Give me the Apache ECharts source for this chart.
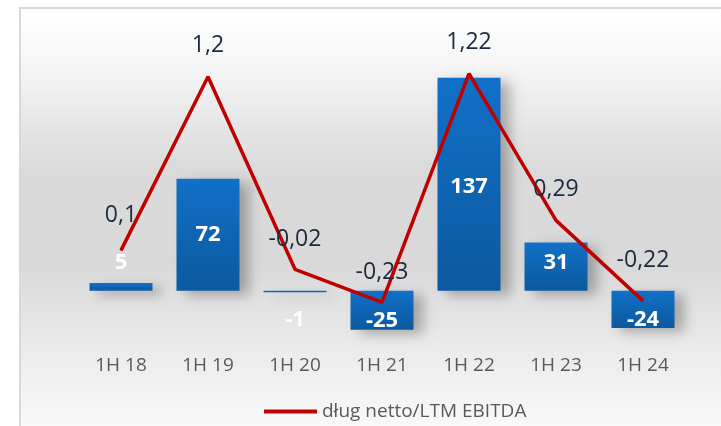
<!DOCTYPE html>
<html>
<head>
<meta charset="utf-8">
<script src="https://cdn.jsdelivr.net/npm/echarts@6/dist/echarts.min.js"></script>
<style>
  html, body { margin: 0; padding: 0; background: #fff; }
  #main { width: 721px; height: 426px; }
</style>
</head>
<body>
<div id="main"></div>
<script>
// okresy
var categories = ['1H 18', '1H 19', '1H 20', '1H 21', '1H 22', '1H 23', '1H 24'];
// dług netto (mln)
var debtValues = [5, 72, -1, -25, 137, 31, -24];
// dług netto / LTM EBITDA
var ratioValues = [0.1, 1.2, -0.02, -0.23, 1.22, 0.29, -0.22];

var lineName = 'dług netto/LTM EBITDA';

// where the bar labels sit, relative to the bar centre (px)
var barLabelShift = [-24, 0, 28, 10, 2, -4, 10];
var lineLabelGap = [23, 19, 18, 18, 19, 19, 28];

var barColor = new echarts.graphic.LinearGradient(0, 0, 0, 1, [
  { offset: 0, color: '#1170c8' },
  { offset: 1, color: '#0c599f' }
]);

var option = {
  animation: false,
  backgroundColor: '#ffffff',
  graphic: [{
    type: 'rect',
    z: -1,
    silent: true,
    shape: { x: 20, y: 8, width: 720, height: 430 },
    style: {
      fill: new echarts.graphic.LinearGradient(0, 0, 0, 1, [
        { offset: 0, color: '#ffffff' },
        { offset: 0.12, color: '#f7f7f7' },
        { offset: 0.38, color: '#dadada' },
        { offset: 0.6, color: '#d9d9d9' },
        { offset: 0.78, color: '#eaeaea' },
        { offset: 1, color: '#fbfbfb' }
      ]),
      stroke: '#d9d9d9',
      lineWidth: 2
    }
  }],
  legend: {
    data: [lineName],
    left: 259,
    top: 397,
    icon: 'rect',
    itemWidth: 53,
    itemHeight: 4,
    itemGap: 5,
    textStyle: { fontFamily: 'Open Sans', fontSize: 19, color: '#595959' }
  },
  grid: { left: 77.5, right: 34.5, top: 42, bottom: 73 },
  xAxis: {
    type: 'category',
    data: categories,
    axisLine: { show: false },
    axisTick: { show: false },
    axisLabel: { margin: 3, fontFamily: 'Open Sans', fontSize: 19, color: '#595959' }
  },
  yAxis: [
    { type: 'value', min: -40, max: 160, show: false, splitLine: { show: false } },
    { type: 'value', min: -0.55, max: 1.42, show: false, splitLine: { show: false } }
  ],
  series: [
    {
      type: 'bar',
      name: 'dług netto',
      barWidth: 63,
      yAxisIndex: 0,
      data: debtValues.map(function (v, i) {
        return { value: v, label: { offset: [0, barLabelShift[i]] } };
      }),
      itemStyle: {
        color: barColor,
        shadowColor: 'rgba(0,0,0,0.28)',
        shadowBlur: 12,
        shadowOffsetX: 9,
        shadowOffsetY: 4
      },
      label: {
        show: true,
        position: 'inside',
        color: '#ffffff',
        fontFamily: 'Open Sans',
        fontWeight: 'bold',
        fontSize: 22
      }
    },
    {
      type: 'line',
      name: lineName,
      yAxisIndex: 1,
      z: 5,
      symbol: 'circle',
      symbolSize: 1,
      showSymbol: true,
      data: ratioValues.map(function (v, i) {
        return { value: v, label: { distance: lineLabelGap[i] } };
      }),
      lineStyle: { color: '#c00000', width: 3.5 },
      itemStyle: { color: '#c00000' },
      label: {
        show: true,
        position: 'top',
        color: '#1b2a3e',
        fontFamily: 'Open Sans',
        fontSize: 23,
        formatter: function (p) { return String(p.value).replace('.', ','); }
      }
    }
  ]
};

var chart = echarts.init(document.getElementById('main'));
chart.setOption(option);
</script>
</body>
</html>
